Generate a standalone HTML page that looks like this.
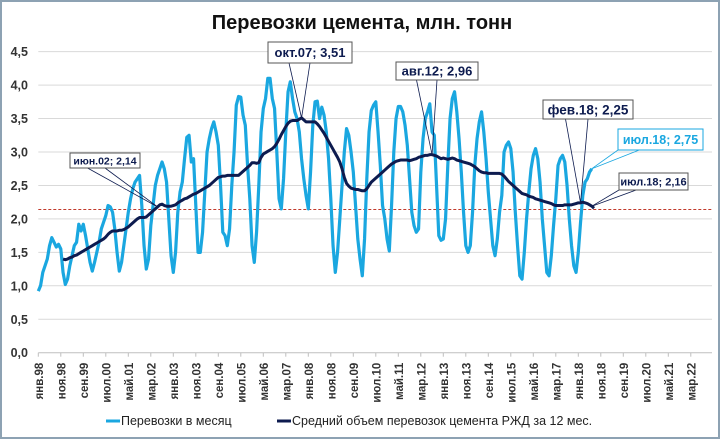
<!DOCTYPE html>
<html><head><meta charset="utf-8"><style>
html,body{margin:0;padding:0;background:#fff;}
svg{display:block;font-family:"Liberation Sans",sans-serif;}
</style></head><body>
<svg id="chart" width="720" height="439" viewBox="0 0 720 439" xmlns="http://www.w3.org/2000/svg">
<rect x="1" y="1" width="718" height="437" fill="#fff" stroke="#8da2b3" stroke-width="2"/>
<text x="362" y="29" text-anchor="middle" font-size="20" font-weight="bold" fill="#111">Перевозки цемента, млн. тонн</text>
<g id="grid"></g>
<g id="yaxis"></g>
<g id="xaxis"></g>
<g id="series"></g>
<g id="annots"></g>
<g>
<line x1="106" y1="421" x2="120" y2="421" stroke="#1aa7e0" stroke-width="3"/>
<text x="121" y="425" font-size="12.5" fill="#222">Перевозки  в месяц</text>
<line x1="277" y1="421" x2="291" y2="421" stroke="#0d1b4f" stroke-width="3"/>
<text x="292" y="425" font-size="12.5" fill="#222">Средний объем перевозок  цемента РЖД за 12 мес.</text>
</g>
</svg>
<script>
// monthly values Jan98 .. Jul18
const monthly = [
0.92,1.0,1.2,1.3,1.4,1.6,1.72,1.65,1.58,1.62,1.55,1.2,
1.02,1.1,1.3,1.45,1.6,1.65,1.92,1.82,1.92,1.75,1.55,1.35,
1.22,1.35,1.5,1.65,1.85,1.95,2.05,2.2,2.18,2.1,1.85,1.5,
1.22,1.35,1.6,1.85,2.1,2.3,2.45,2.55,2.6,2.65,2.2,1.6,
1.25,1.4,1.9,2.2,2.5,2.65,2.75,2.85,2.75,2.55,2.0,1.45,
1.2,1.5,2.1,2.4,2.55,2.9,3.22,3.25,2.85,2.9,2.2,1.5,
1.5,1.8,2.4,3.0,3.2,3.35,3.45,3.3,3.1,2.5,1.8,1.75,
1.6,1.85,2.5,3.0,3.7,3.83,3.82,3.55,3.4,2.8,2.3,1.6,
1.35,1.8,2.5,3.3,3.65,3.8,4.1,4.1,3.8,3.65,3.0,2.3,
2.15,2.6,3.3,3.9,4.05,3.8,3.6,3.5,3.3,2.9,2.6,2.35,
2.15,2.7,3.4,3.75,3.76,3.5,3.67,3.55,3.3,2.9,2.3,1.6,
1.2,1.5,2.0,2.5,3.0,3.35,3.25,3.0,2.7,2.2,1.7,1.4,
1.15,1.7,2.6,3.3,3.62,3.7,3.75,3.3,2.8,2.2,2.0,1.7,
1.52,2.2,3.0,3.5,3.68,3.68,3.6,3.4,3.1,2.6,2.1,1.9,
1.8,1.85,2.7,3.2,3.5,3.6,3.72,3.3,3.25,2.5,1.75,1.68,
1.7,2.0,2.8,3.5,3.8,3.9,3.6,3.2,2.7,2.1,1.6,1.5,
1.6,2.1,2.8,3.2,3.45,3.6,3.3,2.9,2.4,2.0,1.6,1.45,
1.7,2.1,2.35,3.0,3.1,3.15,3.05,2.7,2.1,1.6,1.15,1.1,
1.5,2.0,2.4,2.75,2.95,3.05,2.9,2.55,2.0,1.6,1.2,1.15,
1.45,1.9,2.3,2.8,2.9,2.95,2.85,2.5,2.0,1.6,1.3,1.2,
1.5,1.95,2.35,2.55,2.6,2.7,2.75];
// 12-month average, starts Dec98 (month index 11)
const avgStart = 11;
const average = [
1.40,1.39,1.40,1.42,1.43,1.45,1.46,1.48,1.50,1.52,1.54,1.56,1.58,1.60,1.62,1.64,1.66,1.68,1.70,1.73,1.77,1.80,1.82,1.82,1.82,1.83,1.83,1.84,1.86,1.88,1.91,1.94,1.97,2.00,2.02,2.02,2.02,2.03,2.06,2.09,2.12,2.15,2.18,2.21,2.22,2.20,2.19,2.19,2.19,2.20,2.21,2.24,2.26,2.28,2.30,2.31,2.33,2.35,2.37,2.38,2.40,2.42,2.44,2.46,2.48,2.50,2.53,2.56,2.59,2.62,2.63,2.64,2.64,2.65,2.65,2.65,2.65,2.65,2.65,2.68,2.71,2.74,2.77,2.80,2.84,2.84,2.83,2.84,2.92,2.97,2.99,3.01,3.03,3.05,3.08,3.13,3.19,3.26,3.32,3.38,3.43,3.46,3.47,3.47,3.47,3.49,3.51,3.48,3.45,3.45,3.45,3.45,3.45,3.42,3.38,3.33,3.28,3.22,3.16,3.10,3.04,2.98,2.92,2.85,2.75,2.62,2.53,2.49,2.46,2.45,2.44,2.44,2.43,2.42,2.42,2.45,2.50,2.55,2.58,2.61,2.64,2.67,2.70,2.73,2.76,2.79,2.82,2.84,2.86,2.87,2.88,2.88,2.88,2.88,2.87,2.88,2.89,2.90,2.92,2.93,2.94,2.95,2.95,2.96,2.96,2.95,2.94,2.92,2.90,2.91,2.90,2.89,2.90,2.91,2.90,2.88,2.87,2.86,2.85,2.84,2.83,2.82,2.80,2.78,2.75,2.72,2.70,2.69,2.69,2.68,2.68,2.68,2.68,2.68,2.68,2.67,2.64,2.60,2.56,2.53,2.50,2.47,2.44,2.41,2.38,2.37,2.36,2.34,2.33,2.32,2.30,2.29,2.28,2.27,2.26,2.25,2.24,2.23,2.21,2.20,2.20,2.20,2.20,2.21,2.21,2.21,2.21,2.22,2.23,2.24,2.24,2.25,2.24,2.23,2.21,2.19,2.16];
const yTicks = [0,0.5,1,1.5,2,2.5,3,3.5,4,4.5];
const yTickLabels = ["0,0","0,5","1,0","1,5","2,0","2,5","3,0","3,5","4,0","4,5"];
const xTickLabels = ["янв.98","ноя.98","сен.99","июл.00","май.01","мар.02","янв.03","ноя.03","сен.04","июл.05","май.06","мар.07","янв.08","ноя.08","сен.09","июл.10","май.11","мар.12","янв.13","ноя.13","сен.14","июл.15","май.16","мар.17","янв.18","ноя.18","сен.19","июл.20","май.21","мар.22"];
const refValue = 2.14;
const annotations = [
 {label:"июн.02; 2,14", m:53, series:"avg", bx:70, by:153, bw:70, bh:15, fs:10.5, color:"#0d1b4f"},
 {label:"окт.07; 3,51", m:117, series:"avg", bx:268, by:42, bw:84, bh:21, fs:13, color:"#0d1b4f"},
 {label:"авг.12; 2,96", m:175, series:"avg", bx:396, by:62, bw:82, bh:18, fs:13, color:"#0d1b4f"},
 {label:"фев.18; 2,25", m:241, series:"avg", bx:543, by:100, bw:90, bh:19, fs:13.5, color:"#0d1b4f"},
 {label:"июл.18; 2,75", m:246, series:"mon", bx:618, by:129, bw:85, bh:21, fs:12.5, color:"#1aa7e0"},
 {label:"июл.18; 2,16", m:246, series:"avg", bx:619, by:173, bw:69, bh:17, fs:11, color:"#0d1b4f"}
];

const NS="http://www.w3.org/2000/svg";
const X0=38.3, DX=2.25, Y0=352.7, KY=66.9, XR=712;
function xs(m){return X0+DX*m;}
function ys(v){return Y0-KY*v;}
function mk(tag,attrs,parent){const e=document.createElementNS(NS,tag);for(const k in attrs)e.setAttribute(k,attrs[k]);parent.appendChild(e);return e;}

const grid=document.getElementById('grid'), yaxis=document.getElementById('yaxis'), xaxis=document.getElementById('xaxis');
yTicks.forEach((v,i)=>{
 if(v>0){const g=mk('line',{x1:X0,x2:XR,y1:ys(v),y2:ys(v),stroke:'#d9d9d9','stroke-width':1},grid);
 
 }
 const t=mk('text',{x:28,y:ys(v)+4.5,'text-anchor':'end','font-size':12.5,'font-weight':'bold',fill:'#333'},yaxis);
 t.textContent=yTickLabels[i];
 
 
});
const ax=mk('line',{x1:X0,x2:XR,y1:Y0,y2:Y0,stroke:'#bfbfbf','stroke-width':1},xaxis);


xTickLabels.forEach((lab,i)=>{
 const x=xs(i*10);
 const tk=mk('line',{x1:x,x2:x,y1:Y0,y2:Y0+4,stroke:'#bfbfbf','stroke-width':1},xaxis);
 
 
 const t=mk('text',{x:0,y:0,'text-anchor':'end','font-size':11.5,'font-weight':'bold',fill:'#333',transform:`translate(${x+4.5},${Y0+10}) rotate(-90)`},xaxis);
 t.textContent=lab;
 
 
});
const ser=document.getElementById('series');
const ref=mk('line',{x1:X0,x2:XR,y1:ys(refValue),y2:ys(refValue),stroke:'#c0392b','stroke-width':1,'stroke-dasharray':'3,2'},ser);


const pm=mk('polyline',{points:monthly.map((v,i)=>xs(i)+','+ys(v)).join(' '),fill:'none',stroke:'#1aa7e0','stroke-width':3.2,'stroke-linejoin':'round'},ser);


const pa=mk('polyline',{points:average.map((v,i)=>xs(i+avgStart)+','+ys(v)).join(' '),fill:'none',stroke:'#0d1b4f','stroke-width':3,'stroke-linejoin':'round'},ser);



const an=document.getElementById('annots');
annotations.forEach(a=>{
 const v=a.series==="avg"?average[a.m-avgStart]:monthly[a.m];
 const px=xs(a.m), py=ys(v);
 const left=a.bx>px+5;
 const ax1=left?a.bx:a.bx+a.bw*0.25, ay1=left?a.by+a.bh:a.by+a.bh;
 const ax2=left?a.bx+a.bw*0.25:a.bx+a.bw*0.5;
 [ax1,ax2].forEach(sx=>{
  const l=mk('line',{x1:sx,y1:ay1,x2:px,y2:py,stroke:a.color,'stroke-width':0.8},an);
  
  
 });
 const r=mk('rect',{x:a.bx,y:a.by,width:a.bw,height:a.bh,fill:'#fff',stroke:a.color==="#1aa7e0"?'#1aa7e0':'#555','stroke-width':1},an);
 
 
 const t=mk('text',{x:a.bx+a.bw/2,y:a.by+a.bh/2+a.fs*0.36,'text-anchor':'middle','font-size':a.fs,'font-weight':'bold',fill:a.color},an);
 t.textContent=a.label;
 
 
});
</script>
</body></html>
